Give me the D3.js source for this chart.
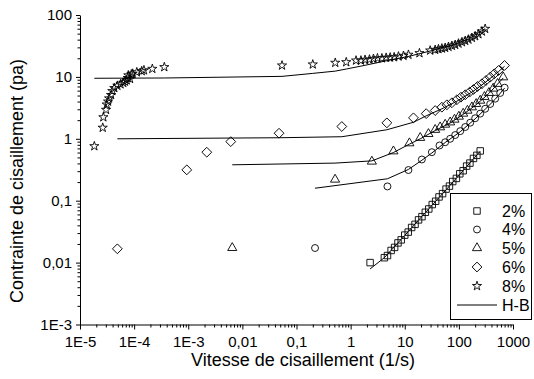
<!DOCTYPE html>
<html>
<head>
<meta charset="utf-8">
<script src="https://cdn.jsdelivr.net/npm/d3@7"></script>
<style>
  body { margin: 0; background: #fff; }
  svg { display: block; }
  text { font-family: Arial, "Liberation Sans", sans-serif; fill: #000; }
</style>
</head>
<body>
<svg id="chart" width="534" height="379"></svg>
<script>
// Shear rate (1/s) and shear stress (Pa) for each concentration
const shear2 = [2.29, 4.2, 4.8, 5.6, 6.5, 7.5, 8.6, 10, 11.6, 13.4, 15.5, 18, 20.8, 24, 27.8, 32.2, 37.2, 43, 50, 58, 67, 77, 90, 104, 120, 139, 160, 186, 215, 248];
const stress2 = [0.0100, 0.0120, 0.0130, 0.0157, 0.0176, 0.0208, 0.0233, 0.0278, 0.0311, 0.0369, 0.0415, 0.0490, 0.0552, 0.0650, 0.0735, 0.0866, 0.0980, 0.115, 0.130, 0.154, 0.172, 0.204, 0.229, 0.272, 0.305, 0.362, 0.405, 0.482, 0.540, 0.637];

const shear4 = [0.22, 4.79, 11.7, 20.7, 31.7, 43.9, 55.8, 69, 85.5, 106, 131, 162, 200, 248, 306, 379, 469, 580, 700];
const stress4 = [0.0172, 0.17, 0.313, 0.463, 0.608, 0.78, 0.88, 1.0, 1.15, 1.33, 1.55, 1.82, 2.15, 2.55, 3.05, 3.65, 4.45, 5.5, 6.7];

const shear5 = [0.0065, 0.516, 2.47, 6.18, 12.2, 19.3, 27.4, 36.5, 45, 55.8, 69, 83, 100, 120, 144, 174, 209, 248, 297, 359, 431, 517, 659];
const stress5 = [0.0173, 0.22, 0.43, 0.63, 0.85, 1.04, 1.2, 1.4, 1.54, 1.70, 1.85, 2.05, 2.29, 2.56, 2.86, 3.24, 3.67, 4.15, 4.77, 5.53, 6.5, 7.74, 9.89];

const shear6 = [4.9e-5, 9.4e-4, 0.0022, 0.0061, 0.0476, 0.687, 4.67, 14.5, 24.9, 36.5, 48.5, 60, 74.3, 91.8, 109, 131, 157, 186, 221, 266, 316, 379, 450, 540, 697];
const stress6 = [0.0167, 0.315, 0.607, 0.90, 1.23, 1.58, 1.81, 2.18, 2.55, 2.86, 3.24, 3.54, 3.82, 4.27, 4.7, 5.14, 5.66, 6.26, 7.0, 7.74, 8.75, 9.89, 11.2, 12.7, 15.3];

const shear8 = [1.84e-5, 2.63e-5, 2.70e-5, 3.03e-5, 3.12e-5, 3.30e-5, 3.45e-5, 3.75e-5, 3.95e-5, 4.3e-5, 4.9e-5, 5.6e-5, 6.3e-5, 6.8e-5, 7.3e-5, 7.6e-5, 7.8e-5, 8.4e-5, 8.9e-5, 9.4e-5, 1.12e-4, 1.38e-4, 1.52e-4, 2.17e-4, 3.61e-4, 0.054, 0.2, 0.52, 0.83, 1.26, 1.55, 1.85, 2.23, 2.64, 3.13, 3.78, 4.53, 5.37, 6.37, 7.66, 9.47, 11.7, 18.7, 29.5, 36.5, 42, 48.5, 55.8, 64.3, 74.3, 85.5, 98.4, 114, 131, 150, 174, 200, 230, 266, 306];
const stress8 = [0.76, 1.51, 2.23, 2.94, 3.58, 4.0, 4.5, 5.1, 5.9, 6.6, 7.2, 7.6, 8.0, 8.4, 8.8, 9.6, 10.6, 9.3, 11.0, 11.3, 11.9, 12.4, 12.8, 13.5, 14.4, 15.3, 15.9, 16.9, 17.3, 18.4, 18.4, 18.9, 19.1, 19.6, 20.0, 20.0, 20.4, 20.6, 20.8, 21.4, 21.9, 22.8, 24.2, 26.7, 27.4, 28.1, 28.8, 29.5, 30.6, 31.8, 33.0, 34.6, 36.4, 38.3, 40.2, 42.8, 45.5, 49.0, 54.2, 59.8];

// Herschel-Bulkley fitted curves
const hbShear2 = [2.29, 4.2, 10, 24, 58, 139, 248];
const hbStress2 = [0.0079, 0.0120, 0.0275, 0.064, 0.150, 0.355, 0.63];
const hbShear4 = [0.22, 4.79, 11.7, 20.7, 31.7, 55.8, 106, 200, 306, 469, 700];
const hbStress4 = [0.159, 0.226, 0.32, 0.45, 0.59, 0.87, 1.3, 2.1, 3.0, 4.35, 6.6];
const hbShear5 = [0.0065, 0.516, 2.47, 6.18, 12.2, 19.3, 36.5, 69, 120, 209, 359, 659];
const hbStress5 = [0.38, 0.405, 0.44, 0.60, 0.82, 1.0, 1.36, 1.8, 2.48, 3.55, 5.4, 9.6];
const hbShear6 = [4.9e-5, 0.0476, 0.687, 4.67, 14.5, 24.9, 48.5, 91.8, 186, 316, 540, 697];
const hbStress6 = [1.0, 1.04, 1.08, 1.40, 1.85, 2.35, 3.05, 4.05, 5.9, 8.3, 12.2, 14.8];
const hbShear8 = [1.84e-5, 3.61e-4, 0.054, 0.2, 0.52, 0.83, 1.85, 4.53, 11.7, 29.5, 74.3, 150, 306];
const hbStress8 = [9.5, 9.6, 10.2, 11.4, 12.4, 13.4, 15.4, 18.2, 21.4, 26.2, 32.5, 41, 60];

const seriesNames = ["2%", "4%", "5%", "6%", "8%"];
const fitName = "H-B";

const xTickValues = [1e-5, 1e-4, 1e-3, 1e-2, 1e-1, 1, 10, 100, 1000];
const xTickLabels = ["1E-5", "1E-4", "1E-3", "0,01", "0,1", "1", "10", "100", "1000"];
const yTickValues = [1e-3, 1e-2, 1e-1, 1, 10, 100];
const yTickLabels = ["1E-3", "0,01", "0,1", "1", "10", "100"];

const xTitle = "Vitesse de cisaillement (1/s)";
const yTitle = "Contrainte de cisaillement (pa)";

const svg = d3.select("#chart");

const x = d3.scaleLog().domain([1e-5, 1000]).range([80, 513]);
const y = d3.scaleLog().domain([1e-3, 100]).range([324.5, 15]);

function minorTicks(lo, hi) {
  const out = [];
  for (let e = lo; e < hi; e++) {
    for (let k = 2; k <= 9; k++) out.push(k * Math.pow(10, e));
  }
  return out;
}

// Axes
const xAxisG = svg.append("g").attr("transform", "translate(0,324.5)");
xAxisG.call(d3.axisBottom(x).tickValues(minorTicks(-5, 3)).tickSize(3).tickSizeOuter(0).tickFormat(""));
xAxisG.call(g => g.select(".domain").remove());
const xMajor = svg.append("g").attr("transform", "translate(0,324.5)")
  .call(d3.axisBottom(x).tickValues(xTickValues).tickSize(5).tickSizeOuter(0).tickPadding(6.5)
    .tickFormat((d, i) => xTickLabels[i]));
xMajor.selectAll("text").style("font-size", "15px").style("font-family", "Arial, 'Liberation Sans', sans-serif");

const yAxisG = svg.append("g").attr("transform", "translate(80,0)");
yAxisG.call(d3.axisLeft(y).tickValues(minorTicks(-3, 2)).tickSize(2.5).tickSizeOuter(0).tickFormat(""));
yAxisG.call(g => g.select(".domain").remove());
const yMajor = svg.append("g").attr("transform", "translate(80,0)")
  .call(d3.axisLeft(y).tickValues(yTickValues).tickSize(4).tickSizeOuter(0).tickPadding(4)
    .tickFormat((d, i) => yTickLabels[i]));
yMajor.selectAll("text").style("font-size", "15px").style("font-family", "Arial, 'Liberation Sans', sans-serif");

svg.selectAll(".domain, .tick line").attr("stroke", "#000").attr("stroke-width", 1);

// Axis titles
svg.append("text").attr("x", 303).attr("y", 366).attr("text-anchor", "middle")
  .style("font-size", "18px").text(xTitle);
svg.append("text").attr("transform", "translate(23,181) rotate(-90)").attr("text-anchor", "middle")
  .style("font-size", "18px").text(yTitle);

// Fitted lines
const line = d3.line().x(d => x(d[0])).y(d => y(d[1]));
const fits = [
  [hbShear2, hbStress2], [hbShear4, hbStress4], [hbShear5, hbStress5],
  [hbShear6, hbStress6], [hbShear8, hbStress8]
];
svg.append("g").selectAll("path").data(fits).join("path")
  .attr("d", f => line(f[0].map((v, i) => [v, f[1][i]])))
  .attr("fill", "none").attr("stroke", "#000").attr("stroke-width", 1);

// Markers
const symbols = [
  { type: d3.symbolSquare, size: 42, rot: 0 },
  { type: d3.symbolCircle, size: 38, rot: 0 },
  { type: d3.symbolTriangle, size: 36, rot: 0 },
  { type: d3.symbolSquare, size: 48, rot: 45 },
  { type: d3.symbolStar, size: 26, rot: 0 }
];
const series = [
  [shear2, stress2], [shear4, stress4], [shear5, stress5], [shear6, stress6], [shear8, stress8]
];
series.forEach((s, k) => {
  const sym = d3.symbol().type(symbols[k].type).size(symbols[k].size);
  svg.append("g").selectAll("path").data(s[0].map((v, i) => [v, s[1][i]])).join("path")
    .attr("transform", d => `translate(${x(d[0])},${y(d[1])}) rotate(${symbols[k].rot})`)
    .attr("d", sym())
    .attr("fill", "none").attr("stroke", "#000").attr("stroke-width", 0.9);
});

// Legend
const legend = svg.append("g");
legend.append("rect").attr("x", 450.5).attr("y", 193.5).attr("width", 81).attr("height", 126)
  .attr("fill", "#fff").attr("stroke", "#000").attr("stroke-width", 1);
const rowY = [211, 229.5, 248, 267, 286];
seriesNames.forEach((name, k) => {
  const sym = d3.symbol().type(symbols[k].type).size(symbols[k].size);
  legend.append("path")
    .attr("transform", `translate(477,${rowY[k]}) rotate(${symbols[k].rot})`)
    .attr("d", sym()).attr("fill", "none").attr("stroke", "#000").attr("stroke-width", 0.9);
  legend.append("text").attr("x", 502).attr("y", rowY[k]).attr("dy", "0.35em")
    .style("font-size", "16px").text(name);
});
legend.append("line").attr("x1", 457).attr("x2", 497).attr("y1", 305).attr("y2", 305)
  .attr("stroke", "#000").attr("stroke-width", 1);
legend.append("text").attr("x", 502).attr("y", 305).attr("dy", "0.35em")
  .style("font-size", "16px").text(fitName);
</script>
</body>
</html>
